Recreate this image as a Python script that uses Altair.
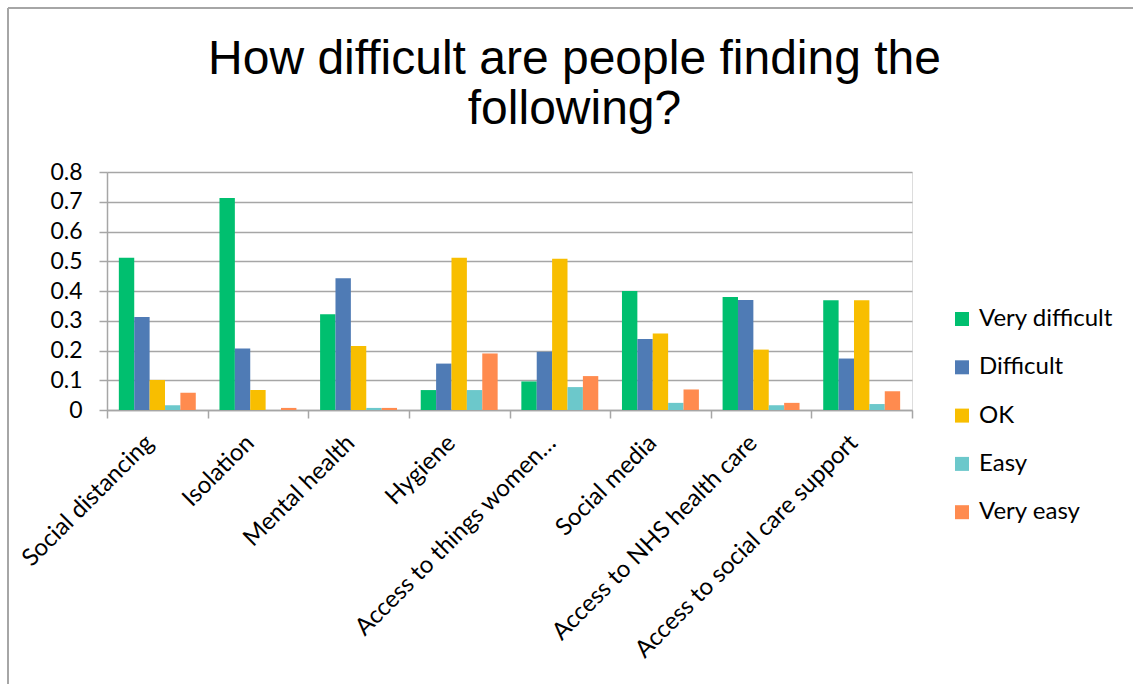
import altair as alt
import pandas as pd

categories = ["Social distancing", "Isolation", "Mental health", "Hygiene",
              "Access to things women\u2026", "Social media",
              "Access to NHS health care", "Access to social care support"]
series = ["Very difficult", "Difficult", "OK", "Easy", "Very easy"]
very_difficult = [0.512, 0.713, 0.322, 0.067, 0.096, 0.400, 0.380, 0.369]
difficult = [0.313, 0.207, 0.443, 0.156, 0.196, 0.239, 0.370, 0.173]
ok = [0.101, 0.067, 0.215, 0.512, 0.508, 0.257, 0.203, 0.369]
easy = [0.016, 0.0, 0.007, 0.067, 0.077, 0.024, 0.016, 0.020]
very_easy = [0.058, 0.007, 0.007, 0.190, 0.114, 0.069, 0.024, 0.063]
colors = ["#00BF6F", "#4F7BB5", "#F8BE00", "#6CC8CB", "#FF8B4F"]
y_ticks = [0, 0.1, 0.2, 0.3, 0.4, 0.5, 0.6, 0.7, 0.8]

rows = []
for s, vals in zip(series, [very_difficult, difficult, ok, easy, very_easy]):
    for c, v in zip(categories, vals):
        rows.append({"category": c, "series": s, "value": v})
df = pd.DataFrame(rows)

W, H = 805, 238
PL, PT = 107, 172
FS = 24

bars = alt.Chart(df).mark_bar().encode(
    x=alt.X("category:N", sort=categories, title=None,
            scale=alt.Scale(paddingInner=0, paddingOuter=0),
            axis=alt.Axis(labelAngle=-45, labelAlign="right", labelBaseline="middle",
                          labelFont="Lato", labelFontSize=FS, labelColor="#000000",
                          labelPadding=21, labelOffset=-8, tickBand="extent", tickSize=8,
                          tickColor="#a6a6a6", tickWidth=1.5,
                          domainColor="#a6a6a6", domainWidth=1.5, grid=False,
                          labelLimit=400)),
    xOffset=alt.XOffset("series:N", sort=series,
                        scale=alt.Scale(paddingInner=0, paddingOuter=0.77)),
    y=alt.Y("value:Q", title=None,
            scale=alt.Scale(domain=[0, 0.8], nice=False),
            axis=alt.Axis(values=y_ticks, format=".1~f", labelFont="Lato",
                          labelFontSize=FS - 1,
                          labelColor="#000000", labelPadding=17, tickSize=8,
                          tickColor="#a6a6a6", tickWidth=1.5,
                          domainColor="#a6a6a6", domainWidth=1.5,
                          gridColor="#a6a6a6", gridWidth=1.5)),
    color=alt.Color("series:N", sort=series,
                    scale=alt.Scale(domain=series, range=colors),
                    legend=alt.Legend(title=None, orient="none", legendX=843, legendY=135,
                                      symbolType="square", symbolSize=196,
                                      symbolStrokeWidth=0, labelFont="Lato",
                                      labelFontSize=FS, labelColor="#000000",
                                      labelOffset=5, rowPadding=24.3, padding=0)),
)

frame_h = alt.Chart(pd.DataFrame({"a": [0]})).mark_rule(color="#a6a6a6", strokeWidth=2).encode(
    x=alt.value(-99), x2=alt.value(1133 - PL), y=alt.value(-164))
frame_v = alt.Chart(pd.DataFrame({"a": [0]})).mark_rule(color="#a6a6a6", strokeWidth=2).encode(
    x=alt.value(-99), y=alt.value(-164), y2=alt.value(684 - PT))

chart = alt.layer(bars, frame_h, frame_v).properties(
    width=W, height=H,
    title=alt.TitleParams(["How difficult are people finding the", "following?"],
                          font="Liberation Sans", fontSize=48, fontWeight="normal",
                          color="#000000", anchor="middle", dx=65, offset=-175,
                          lineHeight=50, baseline="bottom"),
    autosize=alt.AutoSizeParams(type="none"),
    padding={"left": PL, "top": PT, "right": 1133 - PL - W, "bottom": 684 - PT - H},
).configure_view(stroke=None).configure(background="#ffffff")

chart.save("out.html", embed_options={"renderer": "svg", "actions": False})
